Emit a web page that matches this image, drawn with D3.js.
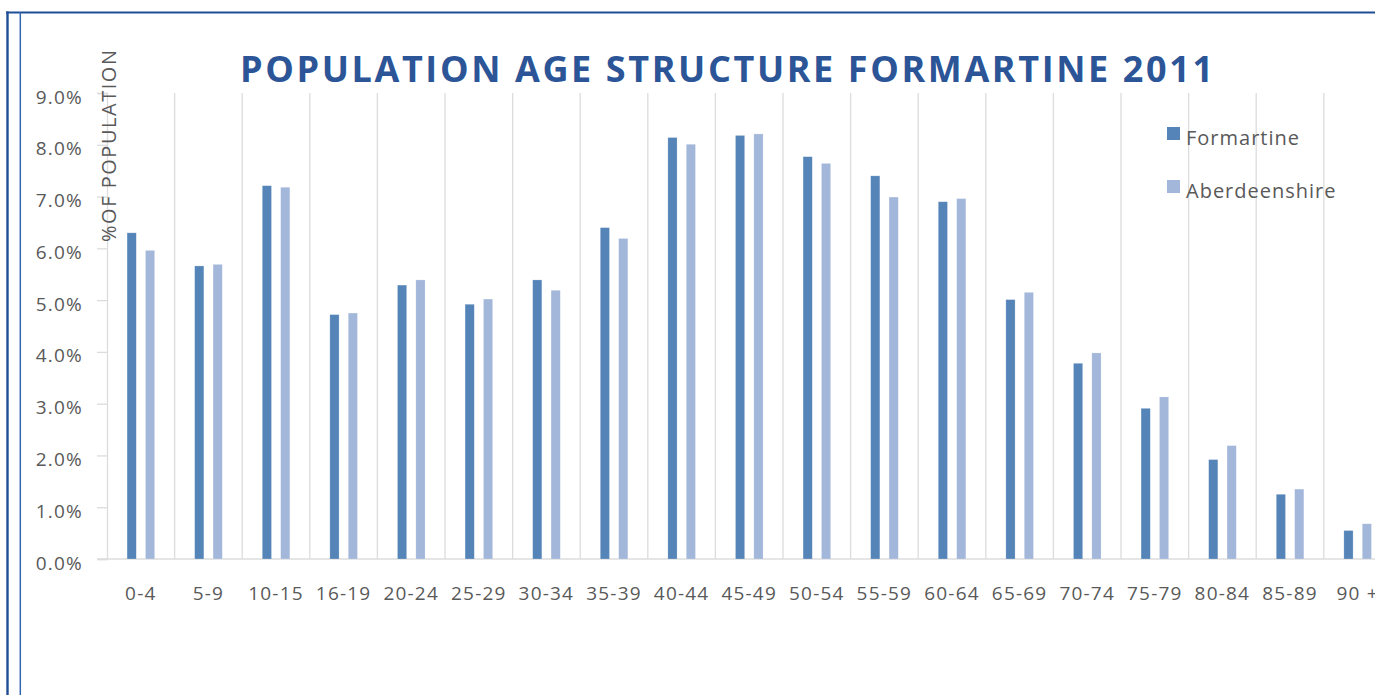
<!DOCTYPE html>
<html>
<head>
<meta charset="utf-8">
<script src="https://cdn.jsdelivr.net/npm/d3@7"></script>
<style>
  html, body { margin: 0; padding: 0; background: #fff; }
  svg { display: block; }
</style>
</head>
<body>
<svg id="chart" width="1375" height="695"></svg>
<script>
const categories = ["0-4","5-9","10-15","16-19","20-24","25-29","30-34","35-39","40-44","45-49","50-54","55-59","60-64","65-69","70-74","75-79","80-84","85-89","90 +"];
const seriesNames = ["Formartine", "Aberdeenshire"];
const formartine    = [6.30, 5.66, 7.21, 4.72, 5.29, 4.92, 5.39, 6.40, 8.14, 8.18, 7.77, 7.40, 6.90, 5.01, 3.78, 2.91, 1.92, 1.25, 0.55];
const aberdeenshire = [5.96, 5.69, 7.18, 4.75, 5.39, 5.02, 5.19, 6.19, 8.01, 8.21, 7.64, 6.99, 6.96, 5.15, 3.98, 3.13, 2.19, 1.35, 0.68];
const yTicks = [0,1,2,3,4,5,6,7,8,9];
const title = "POPULATION AGE STRUCTURE FORMARTINE 2011";
const yTitle = "%OF POPULATION";

const colors = { "Formartine": "#5585B8", "Aberdeenshire": "#A3B7DA" };
const textGray = "#595959";
const gridGray = "#DCDCDC";

const svg = d3.select("#chart");

// frame
svg.append("line").attr("x1", 6).attr("x2", 1375).attr("y1", 12.5).attr("y2", 12.5)
  .attr("stroke", "#1F4E96").attr("stroke-width", 2.2);
svg.append("line").attr("x1", 7.5).attr("x2", 7.5).attr("y1", 11.5).attr("y2", 695)
  .attr("stroke", "#1F4E96").attr("stroke-width", 2.4);
svg.append("line").attr("x1", 20.3).attr("x2", 20.3).attr("y1", 12).attr("y2", 695)
  .attr("stroke", "#3566B0").attr("stroke-width", 1.5);

const x0 = d3.scaleBand().domain(categories).range([107, 107 + 19 * 67.6]).padding(0);
const bw = x0.bandwidth();
const x1 = d3.scaleBand().domain(seriesNames).range([bw * 0.297, bw * 0.705]).paddingInner(0.5).paddingOuter(0);
const y = d3.scaleLinear().domain([0, 9]).range([559, 93]);

// vertical gridlines at band boundaries
const g = svg.append("g");
g.selectAll("line.vgrid").data(categories.slice(1)).enter().append("line")
  .attr("class", "vgrid")
  .attr("x1", d => x0(d)).attr("x2", d => x0(d))
  .attr("y1", y(9)).attr("y2", y(0))
  .attr("stroke", gridGray).attr("stroke-width", 1.3);

// y axis with ticks
const yAxis = d3.axisLeft(y).tickValues(yTicks).tickSize(10).tickFormat(d => d3.format(".1f")(d) + "%");
const ya = svg.append("g").attr("transform", "translate(107,0)").call(yAxis);
ya.select(".domain").attr("stroke", gridGray).attr("stroke-width", 1.3);
ya.selectAll(".tick line").attr("stroke", gridGray).attr("stroke-width", 1.3);
ya.selectAll(".tick text")
  .attr("x", -24).attr("dy", "0.32em").attr("y", 4)
  .attr("fill", textGray)
  .style("font-family", "'Open Sans', sans-serif")
  .style("font-size", "19px")
  .style("letter-spacing", "1.2px");

// baseline
svg.append("line").attr("x1", 97).attr("x2", 1375).attr("y1", y(0)).attr("y2", y(0))
  .attr("stroke", gridGray).attr("stroke-width", 1.5);

// bars
const rows = categories.map((c, i) => ({ cat: c, vals: [
  { s: "Formartine", v: formartine[i] },
  { s: "Aberdeenshire", v: aberdeenshire[i] }
]}));
const groups = svg.append("g").selectAll("g").data(rows).enter().append("g")
  .attr("transform", d => `translate(${x0(d.cat)},0)`);
groups.selectAll("rect").data(d => d.vals).enter().append("rect")
  .attr("x", d => x1(d.s))
  .attr("width", x1.bandwidth())
  .attr("y", d => y(d.v))
  .attr("height", d => y(0) - y(d.v))
  .attr("fill", d => colors[d.s])
  .attr("stroke", "#ffffff").attr("stroke-opacity", 0.35).attr("stroke-width", 0.6);

// x labels
const xAxis = d3.axisBottom(x0).tickSize(0);
const xa = svg.append("g").attr("transform", `translate(0,${y(0)})`).call(xAxis);
xa.select(".domain").remove();
xa.selectAll(".tick text")
  .attr("y", 41).attr("dy", "0")
  .attr("fill", textGray)
  .style("font-family", "'Open Sans', sans-serif")
  .style("font-size", "19px")
  .style("letter-spacing", "1.2px");

// title
svg.append("text")
  .attr("x", 240).attr("y", 82)
  .attr("textLength", 973).attr("lengthAdjust", "spacing")
  .attr("fill", "#2B5597")
  .style("font-family", "'Open Sans', sans-serif")
  .style("font-weight", "bold")
  .style("font-size", "36px")
  .text(title);

// y title
svg.append("text")
  .attr("transform", "translate(116,242) rotate(-90)")
  .attr("textLength", 192).attr("lengthAdjust", "spacing")
  .attr("fill", textGray)
  .style("font-family", "'Open Sans', sans-serif")
  .style("font-size", "20px")
  .text(yTitle);

// legend
const legend = svg.append("g").selectAll("g").data(seriesNames).enter().append("g")
  .attr("transform", (d, i) => `translate(1167,${127 + i * 53})`);
legend.append("rect").attr("width", 13).attr("height", 13).attr("fill", d => colors[d]);
legend.append("text").attr("x", 19).attr("y", 18)
  .attr("fill", textGray)
  .style("font-family", "'Open Sans', sans-serif")
  .style("font-size", "20px")
  .style("letter-spacing", "1px")
  .text(d => d);
</script>
</body>
</html>
